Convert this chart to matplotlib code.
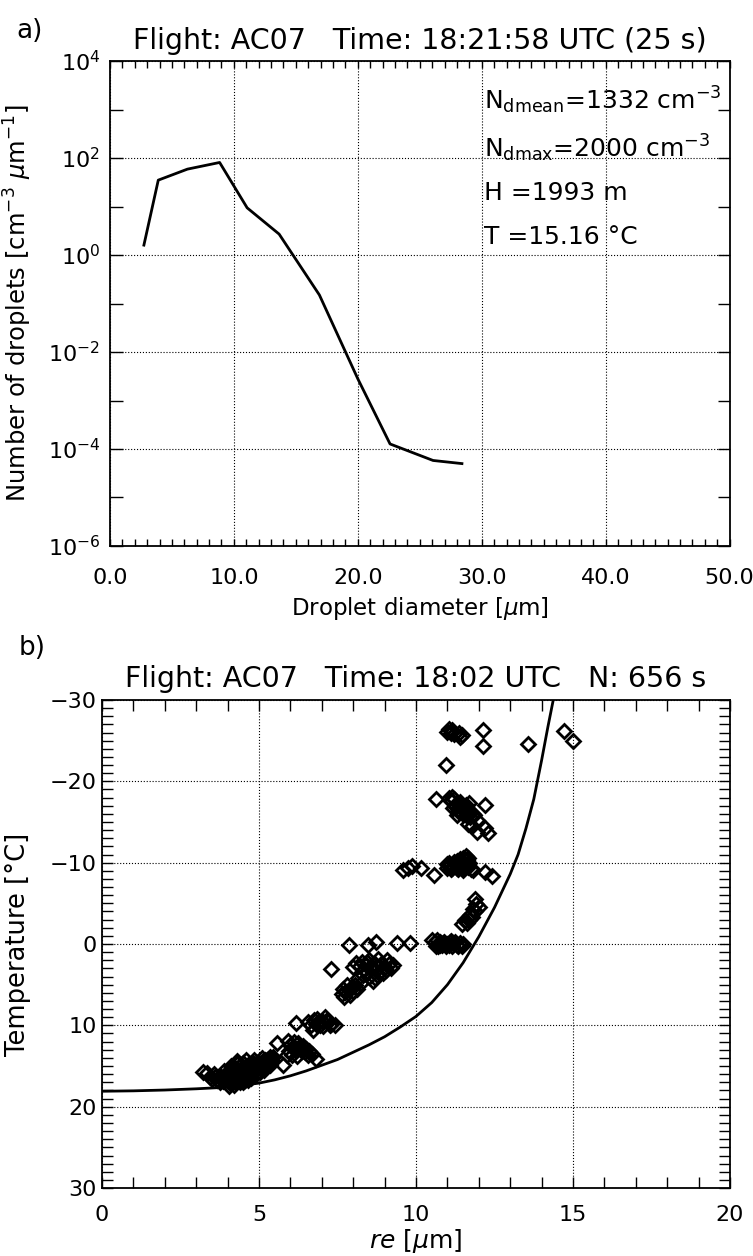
import matplotlib
matplotlib.use('Agg')
import matplotlib.pyplot as plt
from matplotlib.ticker import FixedLocator, MultipleLocator, FormatStrFormatter, NullFormatter

plt.rcParams['font.family'] = ['DejaVu Sans']
plt.rcParams['mathtext.fontset'] = 'dejavusans'

# ---- panel a: droplet size distribution ----
diameter = [2.74, 3.9, 6.25, 8.85, 11.07, 13.65, 16.9, 20.0, 22.6, 26.07, 28.4]
number = [1.6, 35, 59, 81, 9.4, 2.7, 0.15, 0.0028, 1.27e-4, 5.8e-5, 5.0e-5]

info_lines = [r'N$_{\mathregular{dmean}}$=1332 cm$^{\mathregular{-3}}$',
              r'N$_{\mathregular{dmax}}$=2000 cm$^{\mathregular{-3}}$',
              'H =1993 m',
              'T =15.16 °C']
info_ypos = [0.920, 0.821, 0.728, 0.637]

# ---- panel b: re vs temperature, read cluster by cluster ----
re_top = [10.98, 11.05, 11.10, 11.15, 11.20, 11.38, 11.40, 11.45, 12.12, 12.14, 13.58, 14.71, 14.99, 10.96]
t_top = [-26.1, -26.4, -26.0, -26.3, -25.8, -25.9, -25.4, -25.7, -26.3, -24.3, -24.6, -26.2, -24.9, -22.0]

re_m15 = [10.64, 11.05, 11.14, 11.19, 11.25, 11.40, 11.45, 11.56, 11.70, 11.65, 12.20, 11.30, 11.35, 11.72,
          11.80, 11.93, 11.77, 11.95, 12.20, 12.30, 11.50, 11.60, 11.10, 11.20, 11.30, 11.50, 11.60, 11.70,
          11.85, 11.65]
t_m15 = [-17.8, -18.0, -18.1, -16.7, -17.0, -17.4, -16.9, -16.3, -17.3, -16.5, -17.1, -15.9, -16.4, -15.6,
         -16.0, -15.3, -14.5, -13.8, -14.2, -13.7, -16.0, -15.8, -17.6, -17.8, -17.3, -16.6, -17.1, -16.2,
         -15.8, -14.8]

re_m10 = [9.58, 9.86, 9.75, 10.15, 10.58, 10.98, 11.05, 11.10, 11.19, 11.25, 11.30, 11.40, 11.45, 11.50,
          11.55, 11.61, 11.65, 11.67, 11.70, 11.75, 11.83, 11.51, 11.35, 12.20, 12.41, 11.00, 11.20, 11.30,
          11.40, 11.50, 11.60, 11.58, 11.48, 11.38, 11.28, 11.15, 11.05]
t_m10 = [-9.1, -9.6, -9.3, -9.3, -8.5, -9.3, -9.6, -9.2, -9.6, -9.9, -9.4, -9.7, -10.0, -9.5,
         -10.3, -10.3, -10.6, -9.5, -9.9, -9.2, -9.1, -9.1, -9.2, -8.9, -8.4, -9.8, -10.1, -10.2,
         -10.4, -10.6, -10.8, -9.7, -9.3, -9.5, -9.7, -9.4, -9.9]

re_m4 = [11.88, 11.99, 11.92, 11.88, 11.80, 11.77, 11.70, 11.72, 11.63, 11.46, 11.55]
t_m4 = [-5.5, -4.6, -4.9, -4.0, -4.3, -3.3, -2.9, -3.6, -2.6, -2.5, -3.0]

re_0 = [7.85, 8.48, 8.73, 9.40, 9.81, 10.50, 10.60, 10.66, 10.70, 10.76, 10.82, 10.90, 11.00, 11.08,
        11.19, 11.30, 11.40, 11.50, 10.65, 10.75, 10.85, 10.95, 11.05, 11.15, 11.25, 11.35, 11.45, 11.10]
t_0 = [0.1, 0.1, -0.3, -0.1, -0.1, -0.5, -0.2, -0.5, 0.2, 0.1, 0.1, -0.3, 0.0, -0.2,
       -0.1, 0.1, -0.1, 0.0, 0.2, -0.3, -0.1, 0.2, 0.1, 0.2, -0.2, 0.2, 0.2, -0.4]

re_p4 = [7.28, 8.00, 8.10, 8.27, 8.40, 8.50, 8.80, 8.70, 9.07, 9.15, 9.28, 9.20, 8.43, 8.60, 8.64, 8.75,
         8.96, 9.05, 8.16, 8.30, 8.50, 7.69, 7.80, 7.90, 7.63, 8.11, 8.00, 7.85, 8.25, 8.20, 8.35, 8.55,
         8.65, 8.80, 8.90, 9.00, 8.45, 8.70, 8.85, 7.75, 7.95, 8.05, 7.70]
t_p4 = [3.1, 2.8, 2.3, 2.2, 2.6, 2.0, 1.8, 2.5, 2.0, 2.5, 2.6, 3.0, 3.4, 3.0, 4.6, 3.8,
        3.6, 3.2, 4.2, 3.8, 4.0, 5.5, 5.0, 6.3, 6.1, 5.5, 5.8, 5.7, 4.8, 2.7, 3.2, 2.7,
        3.4, 3.0, 2.4, 2.8, 2.2, 4.2, 3.4, 5.9, 5.3, 5.0, 6.5]

re_p10 = [6.18, 6.57, 6.65, 6.84, 6.94, 7.10, 7.20, 7.30, 7.42, 6.73, 6.80, 7.00, 6.90, 7.05, 7.15, 7.25, 6.75]
t_p10 = [9.7, 9.6, 10.0, 9.2, 10.0, 9.0, 9.6, 9.8, 9.9, 10.6, 9.8, 9.5, 9.6, 10.1, 9.4, 10.0, 9.4]

re_p13 = [5.58, 5.93, 6.00, 6.09, 6.25, 6.15, 6.36, 6.45, 6.57, 6.82, 5.77, 5.88, 5.95, 5.35, 6.05, 6.20,
          6.10, 6.30, 6.40, 6.50, 6.20, 6.60, 6.70]
t_p13 = [12.2, 11.9, 12.4, 12.6, 12.2, 13.0, 13.1, 13.3, 13.7, 14.1, 14.9, 13.7, 13.2, 13.9, 13.6, 13.8,
         12.0, 12.7, 12.5, 12.9, 12.9, 13.2, 13.5]

re_p16 = [3.23, 3.44, 3.65, 3.55, 3.80, 3.97, 4.08, 4.00, 4.15, 4.20, 4.29, 4.39, 4.35, 4.45, 4.50, 4.61,
          4.55, 4.71, 4.65, 4.80, 4.85, 4.93, 5.03, 5.00, 5.10, 5.24, 5.20, 5.35, 5.46, 5.40, 4.25, 4.40,
          4.55, 4.75, 4.90, 3.90, 4.10, 4.30, 4.60, 4.85, 5.10, 4.20, 3.75, 4.45, 4.70, 4.95, 5.15,
          3.85, 3.95, 4.05, 4.12, 4.18, 4.25, 4.32, 4.38, 4.42, 4.48, 4.52, 4.58, 4.62, 4.68, 4.73,
          4.78, 4.82, 4.88, 4.92, 4.98, 5.05, 5.12, 5.18, 5.28, 5.32, 4.15, 4.33, 4.50, 4.65, 4.05,
          3.60, 3.35, 3.50]
t_p16 = [15.7, 16.3, 16.7, 16.0, 16.4, 15.9, 17.1, 16.8, 16.2, 15.5, 14.7, 16.5, 15.9, 15.2, 14.6, 15.1,
         16.0, 16.1, 15.6, 14.9, 15.5, 14.7, 15.7, 15.1, 14.5, 14.3, 15.0, 14.9, 13.9, 14.4, 16.9, 17.0,
         16.7, 16.5, 16.0, 15.6, 15.0, 14.4, 14.3, 14.2, 14.0, 17.3, 17.0, 16.2, 15.0, 15.3, 15.5,
         16.9, 16.3, 15.6, 16.6, 15.9, 15.3, 16.2, 15.6, 14.9, 16.4, 15.8, 15.3, 16.3, 14.7, 15.4,
         15.9, 14.6, 15.2, 15.8, 14.5, 15.2, 14.8, 14.2, 14.7, 14.1, 17.0, 16.7, 17.0, 16.7, 17.4,
         16.4, 15.9, 16.6]

re_obs = re_top + re_m15 + re_m10 + re_m4 + re_0 + re_p4 + re_p10 + re_p13 + re_p16
t_obs = t_top + t_m15 + t_m10 + t_m4 + t_0 + t_p4 + t_p10 + t_p13 + t_p16

re_curve = [0, 1, 2, 3, 4, 5, 5.5, 6, 6.5, 7, 7.5, 8, 8.5, 9, 9.5, 10, 10.5, 11, 11.5, 12, 12.5,
            13, 13.25, 13.5, 13.75, 14, 14.2, 14.37]
t_curve = [18.1, 18.05, 17.95, 17.8, 17.6, 17.1, 16.7, 16.2, 15.6, 14.9, 14.2, 13.3, 12.4, 11.4, 10.2,
           8.9, 7.2, 5.0, 2.3, -0.9, -4.5, -8.6, -11.0, -14.2, -17.8, -22.6, -26.7, -30.0]

fig = plt.figure(figsize=(7.53, 12.56), dpi=100)

# panel a
ax1 = fig.add_axes([0.146, 0.5653, 0.823, 0.3861])
ax1.plot(diameter, number, color='black', lw=2)
ax1.set_yscale('log')
ax1.set_xlim(0, 50)
ax1.set_ylim(1e-6, 1e4)
ax1.yaxis.set_major_locator(FixedLocator([1e-6, 1e-4, 1e-2, 1e0, 1e2, 1e4]))
ax1.yaxis.set_minor_locator(FixedLocator([1e-5, 1e-3, 1e-1, 1e1, 1e3]))
ax1.yaxis.set_minor_formatter(NullFormatter())
ax1.xaxis.set_major_locator(MultipleLocator(10))
ax1.xaxis.set_minor_locator(MultipleLocator(1))
ax1.xaxis.set_major_formatter(FormatStrFormatter('%.1f'))
ax1.grid(True, which='major', linestyle=':', color='black', linewidth=0.8)
ax1.tick_params(which='both', direction='in', top=True, right=True, labelsize=16, width=1)
ax1.tick_params(axis='x', which='both', length=5, pad=16)
ax1.tick_params(axis='y', which='both', length=9, pad=7)
ax1.set_xlabel(r'Droplet diameter [$\mu$m]', fontsize=16.5, labelpad=5)
ax1.set_ylabel(r'Number of droplets [cm$^{-3}$ $\mu$m$^{-1}$]', fontsize=17.5)
ax1.yaxis.set_label_coords(-0.122, 0.5)
ax1.set_title('Flight: AC07   Time: 18:21:58 UTC (25 s)', fontsize=20.5, pad=9)
for line, yp in zip(info_lines, info_ypos):
    ax1.text(30.2, yp, line, transform=ax1.get_xaxis_transform(), fontsize=18, va='center')
fig.text(0.022, 0.975, 'a)', fontsize=19, va='center')

# panel b
ax2 = fig.add_axes([0.1355, 0.0541, 0.834, 0.3886])
ax2.plot(re_obs, t_obs, linestyle='none', marker='D', markersize=7.5,
         markerfacecolor='none', markeredgecolor='black', markeredgewidth=2.0)
ax2.plot(re_curve, t_curve, color='black', lw=2)
ax2.set_xlim(0, 20)
ax2.set_ylim(30, -30)
ax2.xaxis.set_major_locator(MultipleLocator(5))
ax2.xaxis.set_minor_locator(MultipleLocator(1))
ax2.yaxis.set_major_locator(MultipleLocator(10))
ax2.yaxis.set_minor_locator(MultipleLocator(1))
ax2.grid(True, which='major', linestyle=':', color='black', linewidth=0.8)
ax2.tick_params(which='both', direction='in', top=True, right=True, labelsize=16, width=1)
ax2.tick_params(axis='x', which='both', length=8, pad=12)
ax2.tick_params(axis='y', which='both', length=8, pad=4)
ax2.set_xlabel(r'$\mathit{re}$ [$\mu$m]', fontsize=18, labelpad=2)
ax2.set_ylabel('Temperature [°C]', fontsize=18.5)
ax2.yaxis.set_label_coords(-0.113, 0.5)
ax2.set_title('Flight: AC07   Time: 18:02 UTC   N: 656 s', fontsize=20.5, pad=9)
fig.text(0.025, 0.484, 'b)', fontsize=19, va='center')

for ax in (ax1, ax2):
    for s in ax.spines.values():
        s.set_linewidth(1.3)

fig.savefig('out.png', dpi=100)
